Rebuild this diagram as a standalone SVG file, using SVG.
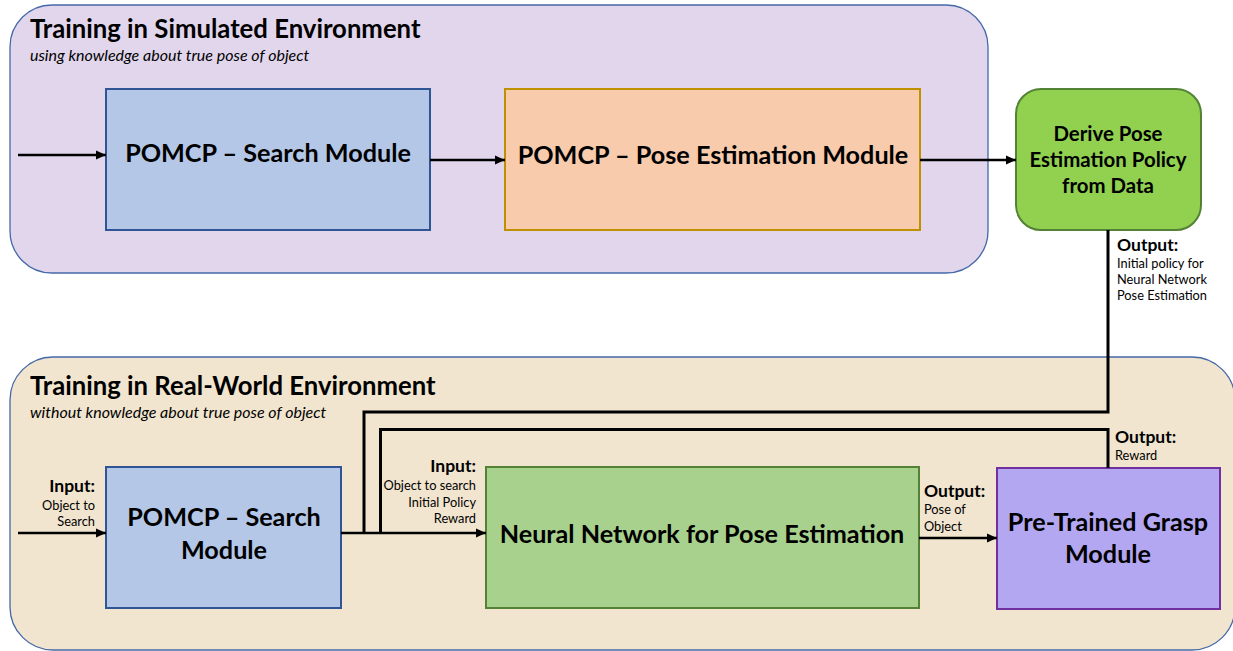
<svg xmlns="http://www.w3.org/2000/svg" width="1233" height="651" viewBox="0 0 1233 651">
  <style>
    text { font-family: Lato, "Open Sans", "Liberation Sans", sans-serif; fill: #000; }
    .title { font-size: 25.7px; font-weight: bold; }
    .sub { font-size: 16px; font-style: italic; }
    .big { font-size: 25.2px; font-weight: bold; text-anchor: middle; }
    .mid { font-size: 20.4px; font-weight: bold; text-anchor: middle; }
    .lbl { font-size: 17.5px; font-weight: bold; }
    .small { font-size: 12.8px; }
    .end { text-anchor: end; }
    .panel { stroke: #4468a8; stroke-width: 1.3; }
    .box { stroke-width: 2; }
    .wire { fill: none; stroke: #000; stroke-width: 3; }
    .arrow { fill: none; stroke: #000; stroke-width: 2.6; marker-end: url(#head); }
  </style>
  <defs>
    <marker id="head" markerUnits="userSpaceOnUse" viewBox="0 0 10 10" refX="10" refY="5" markerWidth="10" markerHeight="10" orient="auto">
      <path d="M0,0.5 L10,5 L0,9.5 Z" fill="#000"/>
    </marker>
  </defs>

  <rect width="1233" height="651" fill="#fff"/>

  <!-- simulated environment panel -->
  <g id="panel-sim">
    <rect class="panel" x="10" y="5" width="978" height="268" rx="42" fill="#e2d6ec"/>
    <text class="title" x="30" y="38">Training in Simulated Environment</text>
    <text class="sub" x="30" y="61">using knowledge about true pose of object</text>
  </g>

  <!-- real-world environment panel -->
  <g id="panel-real">
    <rect class="panel" x="10" y="357" width="1225" height="293" rx="43" fill="#f1e5cf"/>
    <text class="title" x="30" y="395">Training in Real-World Environment</text>
    <text class="sub" x="30" y="418">without knowledge about true pose of object</text>
  </g>

  <g id="sim-search">
    <rect class="box" x="106" y="89" width="324" height="141" fill="#b4c7e7" stroke="#2f5597"/>
    <text class="big" x="268" y="162">POMCP – Search Module</text>
  </g>

  <g id="sim-pose">
    <rect class="box" x="505" y="89" width="415" height="141" fill="#f8cbad" stroke="#bf9000"/>
    <text class="big" x="713" y="164">POMCP – Pose Estimation Module</text>
  </g>

  <g id="derive-policy">
    <rect class="box" x="1016" y="89" width="185" height="141" rx="25" fill="#92d050" stroke="#548235"/>
    <text class="mid" x="1108" y="141">Derive Pose</text>
    <text class="mid" x="1108" y="167">Estimation Policy</text>
    <text class="mid" x="1108" y="193">from Data</text>
  </g>

  <g id="real-search">
    <rect class="box" x="106" y="467" width="235" height="141" fill="#b4c7e7" stroke="#2f5597"/>
    <text class="big" x="224" y="526">POMCP – Search</text>
    <text class="big" x="224" y="559">Module</text>
  </g>

  <g id="pose-network">
    <rect class="box" x="486" y="467" width="433" height="141" fill="#a9d18e" stroke="#548235"/>
    <text class="big" x="702" y="543">Neural Network for Pose Estimation</text>
  </g>

  <g id="grasp-module">
    <rect class="box" x="997" y="468" width="223" height="141" fill="#b4a7f2" stroke="#7030a0"/>
    <text class="big" x="1108" y="531">Pre-Trained Grasp</text>
    <text class="big" x="1108" y="563">Module</text>
  </g>

  <g id="connectors">
    <path class="arrow" d="M18,155 H106"/>
    <path class="arrow" d="M430,160 H505"/>
    <path class="arrow" d="M920,160 H1016"/>
    <path class="wire" d="M1108,230 V412 H364 V533"/>
    <path class="wire" d="M1108,468 V429.5 H380.5 V533"/>
    <path class="arrow" d="M18,533 H106"/>
    <path class="arrow" d="M341,533 H486"/>
    <path class="arrow" d="M919,538 H997"/>
  </g>

  <g id="labels">
    <text class="lbl" x="1117" y="251">Output:</text>
    <text class="small" x="1117" y="268">Initial policy for</text>
    <text class="small" x="1117" y="284">Neural Network</text>
    <text class="small" x="1117" y="300">Pose Estimation</text>

    <text class="lbl end" x="95" y="492">Input:</text>
    <text class="small end" x="95" y="510">Object to</text>
    <text class="small end" x="95" y="526">Search</text>

    <text class="lbl end" x="476" y="472">Input:</text>
    <text class="small end" x="476" y="490">Object to search</text>
    <text class="small end" x="476" y="507">Initial Policy</text>
    <text class="small end" x="476" y="523">Reward</text>

    <text class="lbl" x="924" y="497">Output:</text>
    <text class="small" x="924" y="514">Pose of</text>
    <text class="small" x="924" y="531">Object</text>

    <text class="lbl" x="1115" y="443">Output:</text>
    <text class="small" x="1115" y="460">Reward</text>
  </g>
</svg>
